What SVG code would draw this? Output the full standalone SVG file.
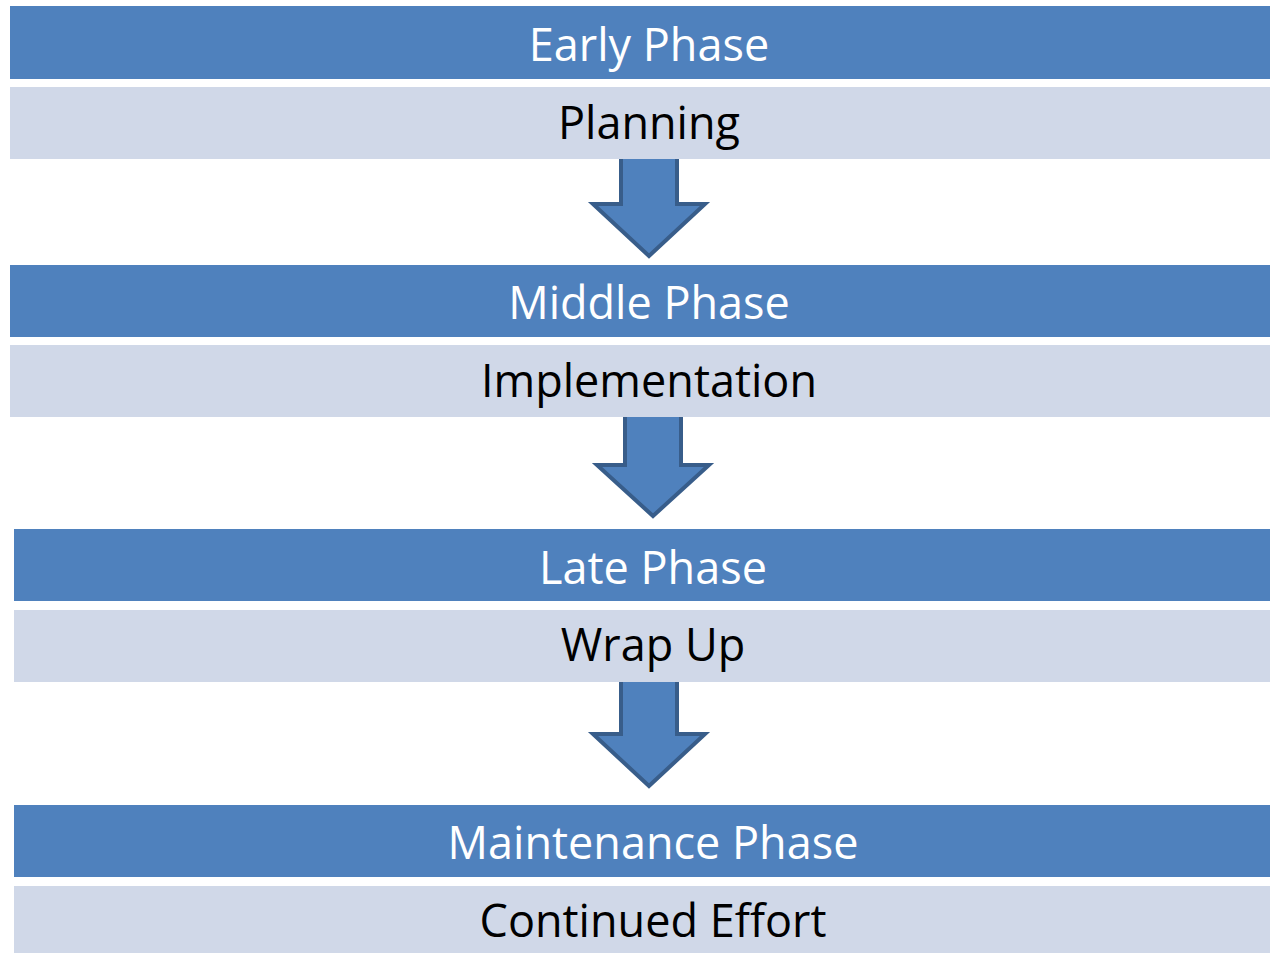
<svg xmlns="http://www.w3.org/2000/svg" width="1270" height="953" viewBox="0 0 1270 953">
  <style>
    .head { fill: #4F81BD; }
    .body { fill: #D0D8E8; }
    .arrow { fill: #4F81BD; stroke: #385D8A; stroke-width: 4; stroke-linejoin: miter; }
    text { font-family: "Open Sans", "Noto Sans", "DejaVu Sans", sans-serif; font-size: 45px; text-anchor: middle; }
    .ht { fill: #FFFFFF; }
    .bt { fill: #000000; }
  </style>
  <rect width="1270" height="953" fill="#FFFFFF"/>

  <!-- arrows between the phases -->
  <g id="connectors">
    <path class="arrow" d="M621,150 H677 V204 H705 L649,256 L593,204 H621 Z"/>
    <path class="arrow" d="M625,410 H681 V465 H709 L653,516 L597,465 H625 Z"/>
    <path class="arrow" d="M621,680 H677 V734 H705 L649,786 L593,734 H621 Z"/>
  </g>

  <g id="early">
    <rect class="head" x="10" y="6" width="1260" height="73"/>
    <text class="ht" x="649" y="61">Early Phase</text>
  </g>
  <g id="planning">
    <rect class="body" x="10" y="87" width="1260" height="72"/>
    <text class="bt" x="649" y="139">Planning</text>
  </g>

  <g id="middle">
    <rect class="head" x="10" y="265" width="1260" height="72"/>
    <text class="ht" x="649" y="319">Middle Phase</text>
  </g>
  <g id="implementation">
    <rect class="body" x="10" y="345" width="1260" height="72"/>
    <text class="bt" x="649" y="397">Implementation</text>
  </g>

  <g id="late">
    <rect class="head" x="14" y="529" width="1256" height="72"/>
    <text class="ht" x="653" y="584">Late Phase</text>
  </g>
  <g id="wrapup">
    <rect class="body" x="14" y="610" width="1256" height="72"/>
    <text class="bt" x="653" y="661">Wrap Up</text>
  </g>

  <g id="maintenance">
    <rect class="head" x="14" y="805" width="1256" height="72"/>
    <text class="ht" x="653" y="859">Maintenance Phase</text>
  </g>
  <g id="continued">
    <rect class="body" x="14" y="886" width="1256" height="67"/>
    <text class="bt" x="653" y="937">Continued Effort</text>
  </g>
</svg>
